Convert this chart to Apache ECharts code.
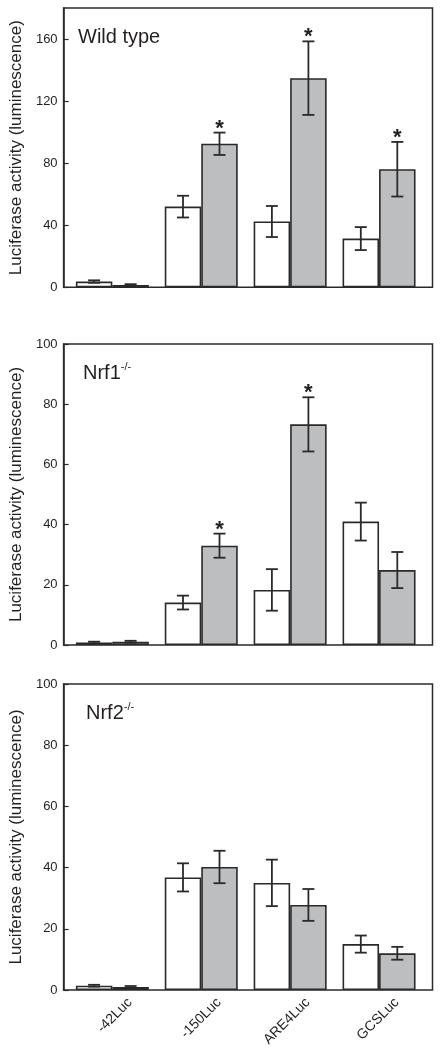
<!DOCTYPE html>
<html>
<head>
<meta charset="utf-8">
<script src="https://cdn.jsdelivr.net/npm/echarts@6/dist/echarts.min.js"></script>
<style>
html,body{margin:0;padding:0;background:#fff;}
#chart{width:441px;height:1050px;}
</style>
</head>
<body>
<div id="chart"></div>
<script>
// ---- data ----
const categories = ['-42Luc', '-150Luc', 'ARE4Luc', 'GCSLuc'];
const yAxisName = 'Luciferase activity (luminescence)';
const panelNames = ['Wild type', 'Nrf1', 'Nrf2'];
const panelSup = ['', '-/-', '-/-'];
const yMax = [180, 100, 100];
const yInterval = [40, 20, 20];

const wtWhite = [3.7, 52.0, 42.4, 31.4];
const wtWhiteErr = [0.8, 7.0, 10.0, 7.4];
const wtGray = [1.5, 92.5, 134.8, 76.1];
const wtGrayErr = [0.5, 7.2, 23.7, 17.6];
const wtSig = [0, 1, 1, 1];

const nrf1White = [0.8, 14.1, 18.3, 41.0];
const nrf1WhiteErr = [0.3, 2.3, 6.9, 6.3];
const nrf1Gray = [1.1, 33.0, 73.3, 24.9];
const nrf1GrayErr = [0.3, 4.0, 9.0, 6.0];
const nrf1Sig = [0, 1, 1, 0];

const nrf2White = [1.4, 36.8, 35.0, 15.0];
const nrf2WhiteErr = [0.3, 4.6, 7.6, 2.8];
const nrf2Gray = [1.0, 40.2, 27.8, 12.0];
const nrf2GrayErr = [0.3, 5.3, 5.2, 2.1];
const nrf2Sig = [0, 0, 0, 0];

// ---- layout / style ----
const FONT = '"Liberation Sans", Arial, Helvetica, sans-serif';
const INK = '#231f20';
const EDGE = '#2a2a2a';
const GRAYFILL = '#bcbec0';
const panelTop = [8, 344, 684];
const panelHeight = [279.3, 301, 306];
const titleLeft = [78, 83, 86];
const BAR_W = 36.5;

const panels = [
  {white: wtWhite, whiteErr: wtWhiteErr, gray: wtGray, grayErr: wtGrayErr, sig: wtSig},
  {white: nrf1White, whiteErr: nrf1WhiteErr, gray: nrf1Gray, grayErr: nrf1GrayErr, sig: nrf1Sig},
  {white: nrf2White, whiteErr: nrf2WhiteErr, gray: nrf2Gray, grayErr: nrf2GrayErr, sig: nrf2Sig}
];

const grid = [], xAxis = [], yAxis = [], series = [], title = [];

function errRender(offset) {
  return function (params, api) {
    const i = api.value(0), v = api.value(1), e = api.value(2), s = api.value(3);
    const top = api.coord([i, v + e]);
    const bot = api.coord([i, v - e]);
    const x = top[0] + offset;
    const cap = 6;
    const ls = {stroke: EDGE, lineWidth: 1.8};
    const children = [
      {type: 'line', shape: {x1: x, y1: top[1], x2: x, y2: bot[1]}, style: ls},
      {type: 'line', shape: {x1: x - cap, y1: top[1], x2: x + cap, y2: top[1]}, style: ls},
      {type: 'line', shape: {x1: x - cap, y1: bot[1], x2: x + cap, y2: bot[1]}, style: ls}
    ];
    if (s) {
      children.push({type: 'text', style: {text: '*', x: x, y: top[1] - 4, align: 'center', verticalAlign: 'middle',
        font: 'bold 22px ' + FONT, fill: INK}});
    }
    return {type: 'group', children: children};
  };
}

panels.forEach(function (p, k) {
  const gFrame = 2 * k, gData = 2 * k + 1;
  grid.push({left: 58, right: 8.5, top: panelTop[k], height: panelHeight[k], show: true,
    borderColor: EDGE, borderWidth: 1.5, backgroundColor: 'transparent'});
  grid.push({left: 67.9, right: 17.5, top: panelTop[k], height: panelHeight[k]});

  xAxis.push({type: 'value', gridIndex: gFrame, min: 0, max: 1, show: false});
  xAxis.push({type: 'category', gridIndex: gData, data: categories,
    axisLine: {show: false}, axisTick: {show: false},
    axisLabel: k === 2 ? {
      show: true, rotate: 45, interval: 0, align: 'center', verticalAlign: 'middle', margin: 28,
      fontSize: 14, fontFamily: FONT, color: INK,
      formatter: function (v) { return '{a|' + v + '}'; },
      rich: {a: {width: 50, align: 'right', fontSize: 14, fontFamily: FONT, color: INK}}
    } : {show: false}
  });

  yAxis.push({type: 'value', gridIndex: gFrame, min: 0, max: yMax[k], interval: yInterval[k],
    name: yAxisName, nameLocation: 'middle', nameGap: 33,
    nameTextStyle: {fontSize: 17, fontFamily: FONT, color: INK},
    axisLine: {show: true, lineStyle: {color: EDGE, width: 1.5}},
    axisTick: {show: true, inside: true, length: 5, lineStyle: {color: EDGE, width: 1.2}},
    axisLabel: {fontSize: 13, fontFamily: FONT, color: INK, margin: 6, showMaxLabel: k !== 0},
    splitLine: {show: false}
  });
  yAxis.push({type: 'value', gridIndex: gData, min: 0, max: yMax[k], show: false, splitLine: {show: false}});

  series.push({type: 'bar', xAxisIndex: gData, yAxisIndex: gData, data: p.white, barWidth: BAR_W, barGap: '0%',
    itemStyle: {color: '#ffffff', borderColor: EDGE, borderWidth: 1.6}, silent: true, z: 2});
  series.push({type: 'bar', xAxisIndex: gData, yAxisIndex: gData, data: p.gray, barWidth: BAR_W, barGap: '0%',
    itemStyle: {color: GRAYFILL, borderColor: EDGE, borderWidth: 1.6}, silent: true, z: 2});

  series.push({type: 'custom', xAxisIndex: gData, yAxisIndex: gData, z: 5, silent: true,
    renderItem: errRender(-BAR_W / 2),
    data: p.white.map(function (v, i) { return [i, v, p.whiteErr[i], 0]; })});
  series.push({type: 'custom', xAxisIndex: gData, yAxisIndex: gData, z: 5, silent: true,
    renderItem: errRender(BAR_W / 2),
    data: p.gray.map(function (v, i) { return [i, v, p.grayErr[i], p.sig[i]]; })});

  title.push({
    text: panelSup[k] ? '{m|' + panelNames[k] + '}{s|' + panelSup[k] + '}' : '{m|' + panelNames[k] + '}',
    left: titleLeft[k], top: panelTop[k] + 17, padding: 0,
    textStyle: {fontWeight: 'normal', rich: {
      m: {fontSize: 20, fontFamily: FONT, fontWeight: 'normal', color: INK, lineHeight: 24},
      s: {fontSize: 11, fontFamily: FONT, fontWeight: 'normal', color: INK, verticalAlign: 'top', lineHeight: 24, padding: [0, 0, 10, 0]}
    }}
  });
});

const chart = echarts.init(document.getElementById('chart'), null, {renderer: 'canvas'});
chart.setOption({animation: false, backgroundColor: '#ffffff', title: title, grid: grid,
  xAxis: xAxis, yAxis: yAxis, series: series});
</script>
</body>
</html>
